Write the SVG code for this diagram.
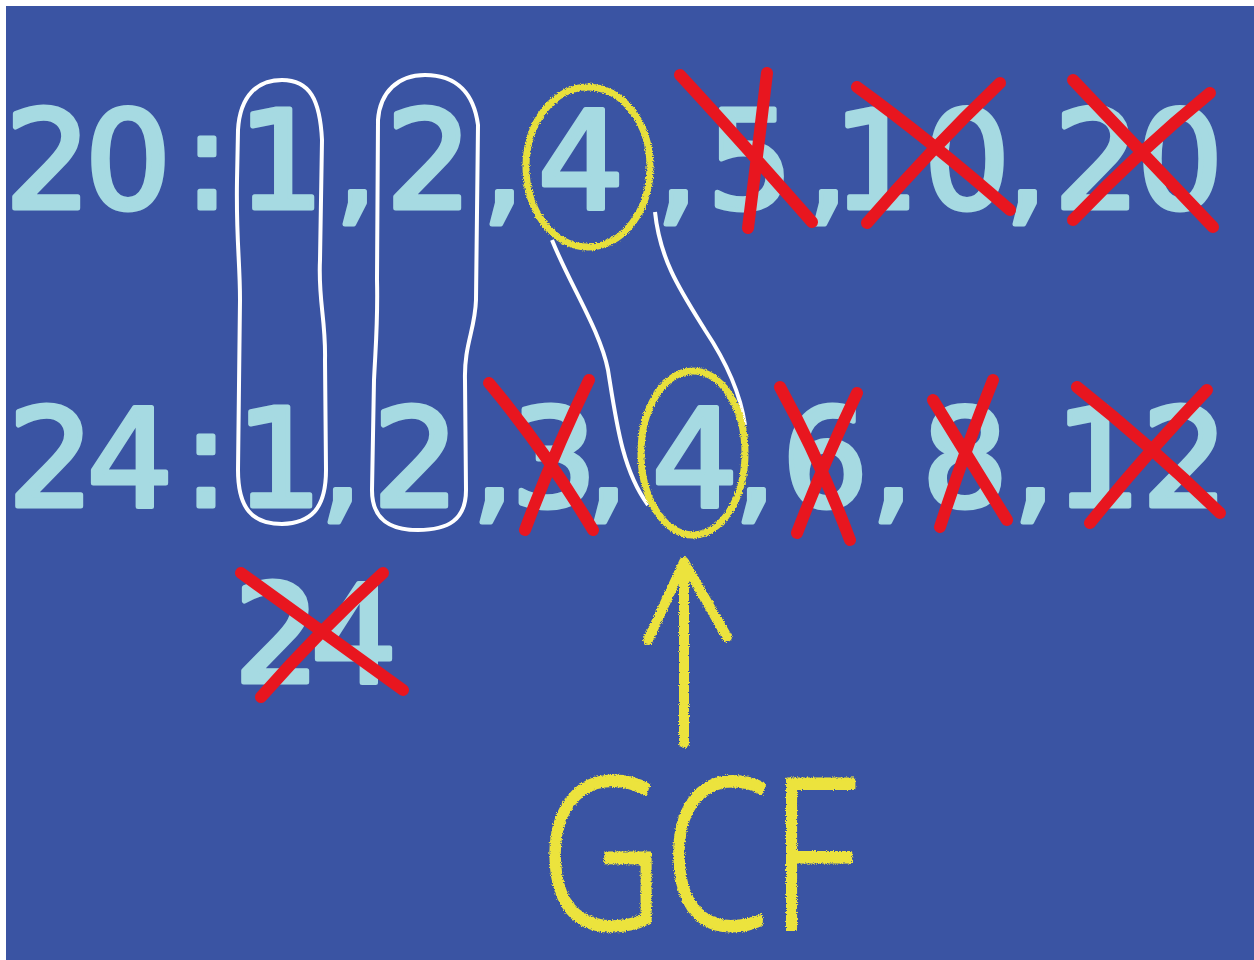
<svg xmlns="http://www.w3.org/2000/svg" width="1254" height="960" viewBox="0 0 1254 960">
  <defs>
    <style>
      .d { font-family: "DejaVu Sans", "Liberation Sans", sans-serif; font-size: 136px; fill: #A6DAE2; stroke: #A6DAE2; stroke-width: 5; stroke-linejoin: round; stroke-linecap: round; text-anchor: middle; }
      .x { fill: none; stroke: #E8161F; stroke-width: 12; stroke-linecap: round; }
      .loop { fill: none; stroke: #FFFFFF; stroke-width: 4; stroke-linejoin: round; }
      .ring { fill: none; stroke: #E8E03A; stroke-width: 7; }
      .chalk { fill: none; stroke: #ECE33C; stroke-width: 10; stroke-linecap: round; stroke-linejoin: round; }
      .gcf { font-family: "Open Sans", "Liberation Sans", sans-serif; font-weight: 300; font-size: 210px; fill: #ECE33C; stroke: #ECE33C; stroke-width: 3; stroke-linejoin: round; }
    </style>
    <filter id="rough" x="-10%" y="-10%" width="120%" height="120%">
      <feTurbulence type="fractalNoise" baseFrequency="0.9" numOctaves="2" seed="3" result="n"/>
      <feDisplacementMap in="SourceGraphic" in2="n" scale="4" xChannelSelector="R" yChannelSelector="G"/>
    </filter>
  </defs>

  <rect x="0" y="0" width="1254" height="960" fill="#FFFFFF"/>
  <rect x="6" y="6" width="1248" height="954" fill="#3A54A3"/>

  <!-- top row: 20 -->
  <g id="row-20" class="d">
    <text x="48" y="208">2</text>
    <text x="128" y="208">0</text>
    <text x="207" y="208">:</text>
    <text x="281" y="208">1</text>
    <text x="356" y="208">,</text>
    <text x="429" y="208">2</text>
    <text x="503" y="208">,</text>
    <text x="581" y="208">4</text>
    <text x="677" y="208">,</text>
    <text x="750" y="208">5</text>
    <text x="827" y="208">,</text>
    <text x="876" y="208">1</text>
    <text x="967" y="208">0</text>
    <text x="1026" y="208">,</text>
    <text x="1097" y="208">2</text>
    <text x="1180" y="208">0</text>
  </g>

  <!-- bottom row: 24 -->
  <g id="row-24" class="d">
    <text x="51" y="506">2</text>
    <text x="130" y="506">4</text>
    <text x="206" y="506">:</text>
    <text x="279" y="506">1</text>
    <text x="341" y="506">,</text>
    <text x="416" y="506">2</text>
    <text x="493" y="506">,</text>
    <text x="554" y="506">3</text>
    <text x="607" y="506">,</text>
    <text x="695" y="506">4</text>
    <text x="755" y="506">,</text>
    <text x="825" y="506">6</text>
    <text x="892" y="506">,</text>
    <text x="965" y="506">8</text>
    <text x="1034" y="506">,</text>
    <text x="1098" y="506">1</text>
    <text x="1185" y="506">2</text>
  </g>

  <g id="row-24-end" class="d">
    <text x="277" y="682">2</text>
    <text x="354" y="682">4</text>
  </g>

  <!-- loops and arrow -->
  <g id="connectors">
    <path class="loop" d="M282,80 C310,80 320,100 322,140 L320,260 C318,300 326,320 325,360 L326,470 C326,510 310,523 282,524 C252,524 238,508 238,470 L240,300 C240,260 236,240 237,180 L238,130 C240,95 258,80 282,80 Z"/>
    <path class="loop" d="M425,75 C458,75 474,95 478,125 L476,300 C475,330 464,345 465,380 L466,490 C466,520 448,530 418,530 C388,530 372,518 372,490 L374,380 C376,340 378,320 377,280 L378,120 C380,92 398,75 425,75 Z"/>
    <path class="loop" d="M552,240 C570,285 600,330 608,370 C616,420 622,470 648,505"/>
    <path class="loop" d="M655,212 C660,260 680,290 705,330 C725,360 740,390 745,425"/>
    <g filter="url(#rough)">
      <ellipse class="ring" cx="588" cy="167" rx="62" ry="80"/>
      <ellipse class="ring" cx="693" cy="453" rx="52" ry="82"/>
      <path class="chalk" d="M684,743 L684,562 M648,640 L684,562 L727,637"/>
    </g>
  </g>

  <!-- crossed out factors -->
  <g id="crosses">
    <path class="x" d="M680,75 Q740,140 812,222 M767,73 Q758,150 748,228"/>
    <path class="x" d="M857,87 Q930,140 1010,210 M1000,83 Q930,150 867,223"/>
    <path class="x" d="M1073,80 Q1140,150 1213,227 M1210,93 Q1140,150 1073,220"/>
    <path class="x" d="M489,383 Q545,450 593,530 M589,380 Q555,450 525,530"/>
    <path class="x" d="M780,387 Q820,460 850,540 M857,393 Q825,460 797,533"/>
    <path class="x" d="M933,400 Q970,460 1007,520 M993,380 Q965,450 940,527"/>
    <path class="x" d="M1077,387 Q1150,445 1220,513 M1207,390 Q1145,455 1090,523"/>
    <path class="x" d="M241,573 Q320,630 403,690 M383,573 Q320,630 261,697"/>
  </g>

  <g id="gcf" filter="url(#rough)">
    <text class="gcf" x="540" y="929" textLength="316" lengthAdjust="spacingAndGlyphs">GCF</text>
  </g>
</svg>
